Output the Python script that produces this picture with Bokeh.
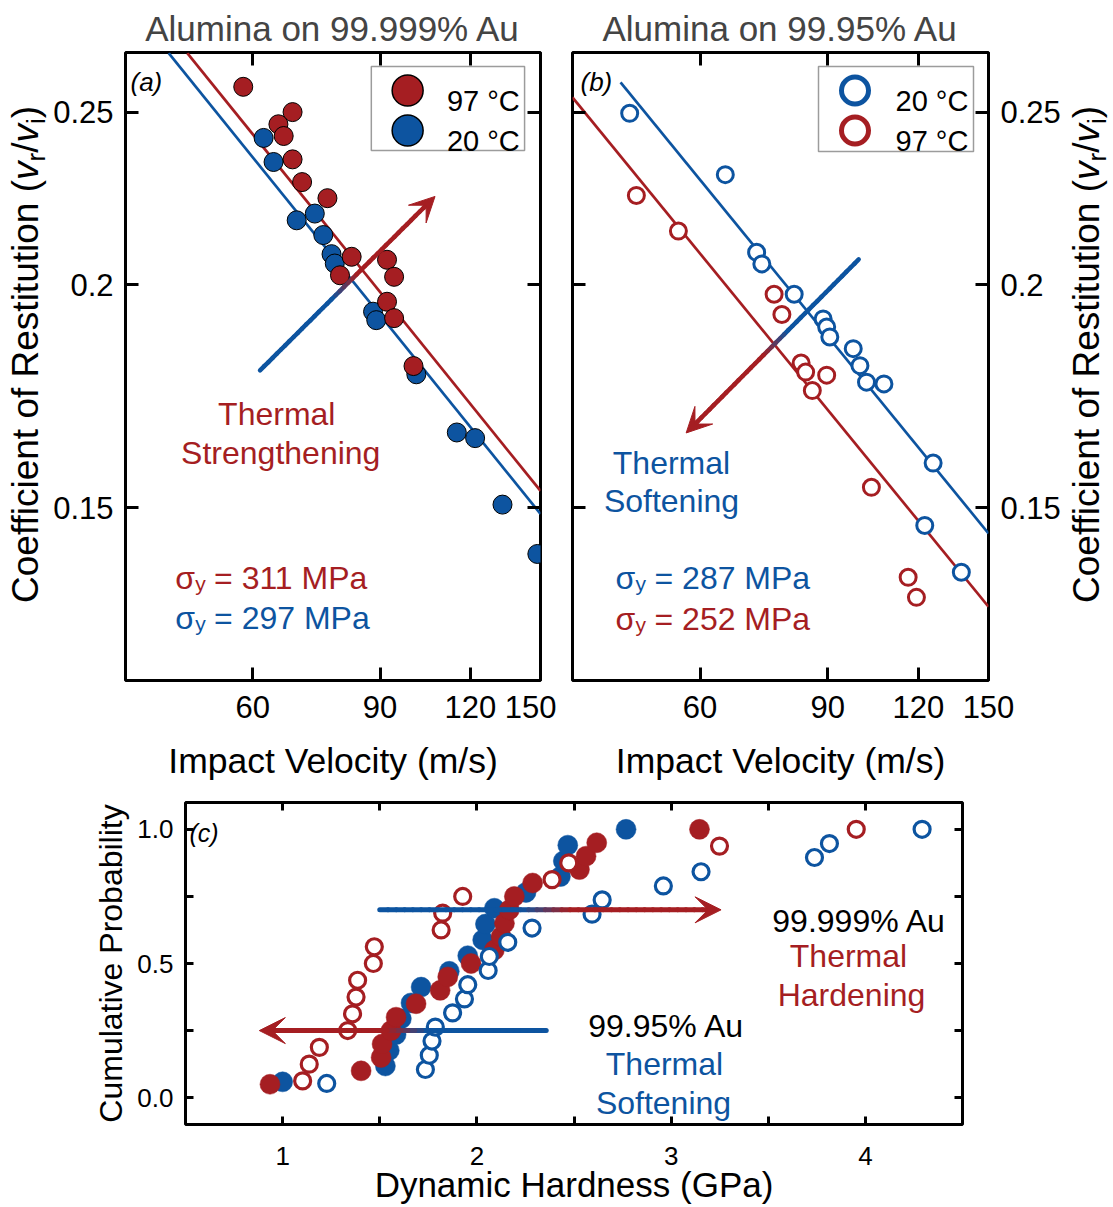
import math
from bokeh.plotting import figure
from bokeh.models import (FixedTicker, LogAxis, LinearAxis, Label, Arrow, VeeHead, Div,
                          PrintfTickFormatter, CustomJSTickFormatter)
from bokeh.layouts import column, row
from bokeh.embed import file_html
from bokeh.resources import INLINE

RED = "#A51E22"
BLUE = "#0D54A0"
FONT = "Liberation Sans"

# ---------------- data ----------------
# (a) Alumina on 99.999% Au : impact velocity (m/s) vs coefficient of restitution
a_v_97 = [58.2, 68.1, 65.1, 66.2, 68.1, 70.2, 76.1, 82.2, 79.2, 92.0, 94.1, 92.0, 94.1, 100.1]
a_e_97 = [0.2583, 0.2500, 0.2461, 0.2424, 0.2352, 0.2284, 0.2237, 0.2074, 0.2025, 0.2066,
          0.2021, 0.1957, 0.1916, 0.1801]
a_v_20 = [62.1, 64.1, 69.0, 73.1, 75.1, 77.1, 77.9, 88.0, 88.9, 101.0, 114.9, 121.8, 132.9, 148.5]
a_e_20 = [0.2418, 0.2344, 0.2174, 0.2193, 0.2133, 0.2081, 0.2056, 0.1932, 0.1911, 0.1782,
          0.1653, 0.1641, 0.1506, 0.1413]
a_fit97_v = [48.7, 150.0]
a_fit97_e = [0.2698, 0.1533]
a_fit20_v = [45.9, 150.0]
a_fit20_e = [0.2698, 0.1488]

# (b) Alumina on 99.95% Au
b_v_20 = [47.97, 65.0, 71.8, 73.0, 80.9, 88.7, 89.7, 90.6, 97.6, 99.7, 101.8, 107.6, 125.8, 122.5, 137.6]
b_e_20 = [0.2496, 0.2306, 0.2086, 0.2055, 0.1976, 0.1914, 0.1894, 0.1870, 0.1842, 0.1802,
          0.1764, 0.1760, 0.1589, 0.1466, 0.1380]
b_v_97 = [49.0, 56.0, 75.9, 77.8, 82.7, 83.9, 89.7, 85.7, 103.4, 116.2, 119.3]
b_e_97 = [0.2245, 0.2144, 0.1976, 0.1925, 0.1808, 0.1787, 0.1780, 0.1745, 0.1540, 0.1371, 0.1336]
b_fit20_v = [46.6, 150.0]
b_fit20_e = [0.2598, 0.1451]
b_fit97_v = [40.0, 150.0]
b_fit97_e = [0.2548, 0.1320]

# (c) dynamic hardness (GPa) vs cumulative probability
c_h_pure97 = [0.935, 1.404, 1.507, 1.512, 1.558, 1.584, 1.687, 1.811, 1.850, 1.970,
              2.090, 2.125, 2.142, 2.167, 2.193, 2.287, 2.528, 2.562, 2.617, 3.146]
c_p_pure97 = [0.05, 0.10, 0.15, 0.20, 0.25, 0.30, 0.35, 0.40, 0.45, 0.50,
              0.55, 0.60, 0.65, 0.70, 0.75, 0.80, 0.85, 0.90, 0.95, 1.00]
c_h_pure20 = [1.000, 1.529, 1.549, 1.584, 1.611, 1.661, 1.713, 1.858, 1.953, 2.030,
              2.044, 2.090, 2.253, 2.430, 2.445, 2.468, 2.768]
c_p_pure20 = [0.059, 0.118, 0.176, 0.235, 0.294, 0.353, 0.412, 0.471, 0.529, 0.588,
              0.647, 0.706, 0.765, 0.824, 0.882, 0.941, 1.000]
c_h_imp97 = [1.103, 1.137, 1.189, 1.335, 1.360, 1.378, 1.386, 1.467, 1.472, 1.816,
             1.824, 1.927, 2.387, 2.473, 3.249, 3.953]
c_p_imp97 = [0.0625, 0.125, 0.1875, 0.25, 0.3125, 0.375, 0.4375, 0.5, 0.5625, 0.625,
             0.6875, 0.75, 0.8125, 0.875, 0.9375, 1.0]
c_h_imp20 = [1.227, 1.735, 1.755, 1.769, 1.786, 1.875, 1.936, 1.953, 2.058, 2.064,
             2.159, 2.284, 2.593, 2.645, 2.960, 3.154, 3.738, 3.815, 4.292]
c_p_imp20 = [0.053, 0.105, 0.158, 0.211, 0.263, 0.316, 0.368, 0.421, 0.474, 0.526,
             0.579, 0.632, 0.684, 0.737, 0.789, 0.842, 0.895, 0.947, 1.000]

# arrows (start, end) in data units
a_arrow = [(61.4, 0.1791), (107.2, 0.2242)]
b_arrow = [(99.3, 0.2067), (57.4, 0.1652)]
c_arrow_up = [(1.5, 0.70), (3.257, 0.70)]
c_arrow_low = [(2.357, 0.25), (0.88, 0.25)]

v_ticks = [60, 90, 120, 150]
e_ticks = [0.15, 0.2, 0.25]
h_ticks = [1, 2, 3, 4]
h_minor = [1.5, 2.5, 3.5]
p_ticks = [0.0, 0.5, 1.0]
p_minor = [0.25, 0.75]
V_RANGE = (40, 150)
E_RANGE = (0.12, 0.27)
H_RANGE = (0.5, 4.5)
P_RANGE = (-0.1, 1.1)

# ---------------- geometry (page pixels) ----------------
AB_H = 783
LA_W = 50                   # strip holding the left y-axis title
A_CX, A_W = 50, 506
B_CX, B_W = 556, 508
LB_X, LB_W = 1064, 48       # strip holding the right y-axis title
C_TOP, C_W, C_H = AB_H, 1112, 423
A_FR = dict(left=123, right=540, top=52, bottom=680)
B_FR = dict(left=572, right=988, top=52, bottom=680)
C_FR = dict(left=185, right=962, top=802, bottom=1124)


def log_map(fr):
    lx0, lx1 = math.log(V_RANGE[0]), math.log(V_RANGE[1])
    ly0, ly1 = math.log(E_RANGE[0]), math.log(E_RANGE[1])
    fx = lambda px: math.exp(lx0 + (px - fr["left"]) / (fr["right"] - fr["left"]) * (lx1 - lx0))
    fy = lambda py: math.exp(ly1 - (py - fr["top"]) / (fr["bottom"] - fr["top"]) * (ly1 - ly0))
    return fx, fy


def lin_map(fr):
    fx = lambda px: H_RANGE[0] + (px - fr["left"]) / (fr["right"] - fr["left"]) * (H_RANGE[1] - H_RANGE[0])
    fy = lambda py: P_RANGE[1] - (py - fr["top"]) / (fr["bottom"] - fr["top"]) * (P_RANGE[1] - P_RANGE[0])
    return fx, fy


def mix(c1, c2, f):
    a = [int(c1[i:i + 2], 16) for i in (1, 3, 5)]
    b = [int(c2[i:i + 2], 16) for i in (1, 3, 5)]
    return "#%02x%02x%02x" % tuple(round(a[k] + (b[k] - a[k]) * f) for k in range(3))


def lab(p, x, y, text, size, color="black", align="left", style="normal",
        baseline="alphabetic", angle=0.0):
    p.add_layout(Label(x=x, y=y, text=text, text_font=FONT, text_font_size=f"{size}px",
                       text_color=color, text_align=align, text_baseline=baseline,
                       text_font_style=style, angle=angle))


def grad_arrow(p, pts, logx, logy, width, head, t_end):
    (x0, y0), (x1, y1) = pts

    def lerp(a, b, t, lg):
        if lg:
            return math.exp(math.log(a) + (math.log(b) - math.log(a)) * t)
        return a + (b - a) * t

    n = 40
    sx0, sy0, sx1, sy1, cols = [], [], [], [], []
    for i in range(n):
        ta, tb = t_end * i / n, t_end * (i + 1) / n
        tm = 0.5 * (ta + tb)
        f = min(max((tm - 0.42) / 0.14, 0.0), 1.0)
        sx0.append(lerp(x0, x1, ta, logx)); sy0.append(lerp(y0, y1, ta, logy))
        sx1.append(lerp(x0, x1, tb, logx)); sy1.append(lerp(y0, y1, tb, logy))
        cols.append(mix(BLUE, RED, f))
    p.segment(x0=sx0, y0=sy0, x1=sx1, y1=sy1, line_color=cols, line_width=width, line_cap="round")
    p.add_layout(Arrow(end=VeeHead(size=head, fill_color=RED, line_color=RED, line_width=1),
                       x_start=lerp(x0, x1, 0.9, logx), y_start=lerp(y0, y1, 0.9, logy),
                       x_end=x1, y_end=y1, line_alpha=0.0))


def style_axis(ax, ticks, tick_len, labeled, size="31px", formatter=None, minor=None, standoff=12):
    ax.ticker = FixedTicker(ticks=ticks, minor_ticks=minor or [])
    ax.major_tick_in = tick_len
    ax.major_tick_out = 0
    ax.minor_tick_in = tick_len if minor else 0
    ax.minor_tick_out = 0
    ax.major_tick_line_width = 3
    ax.minor_tick_line_width = 3
    ax.major_tick_line_color = "black"
    ax.minor_tick_line_color = "black"
    ax.axis_line_color = None
    ax.major_label_text_font = FONT
    ax.axis_label_text_font = FONT
    ax.axis_label_text_font_style = "normal"
    ax.axis_label_text_color = "black"
    if labeled:
        ax.major_label_text_font_size = size
        ax.major_label_standoff = standoff
        ax.major_label_text_color = "black"
        if formatter is not None:
            ax.formatter = formatter
    else:
        ax.formatter = CustomJSTickFormatter(code="return ''")
        ax.major_label_text_font_size = "1px"
        ax.major_label_standoff = 0


def base_style(p):
    p.xgrid.visible = False
    p.ygrid.visible = False
    p.outline_line_color = "black"
    p.outline_line_width = 3
    p.background_fill_color = "white"
    p.border_fill_color = "white"


def log_fig(fr, cx, cw, title, yloc):
    p = figure(width=cw, height=AB_H, x_axis_type="log", y_axis_type="log",
               x_range=V_RANGE, y_range=E_RANGE, y_axis_location=yloc, title=title,
               output_backend="svg", toolbar_location=None,
               min_border_left=fr["left"] - cx, min_border_right=cx + cw - fr["right"],
               min_border_top=fr["top"], min_border_bottom=AB_H - fr["bottom"])
    base_style(p)
    p.title.text_font = FONT
    p.title.text_font_size = "35px"
    p.title.text_font_style = "normal"
    p.title.align = "center"
    p.title.standoff = 9
    xb = p.xaxis[0]
    style_axis(xb, v_ticks, 13, True, formatter=CustomJSTickFormatter(code="return tick.toString()"),
               standoff=15)
    xb.axis_label = "Impact Velocity (m/s)"
    xb.axis_label_text_font_size = "35.5px"
    xb.axis_label_standoff = 20
    xt = LogAxis()
    p.add_layout(xt, "above")
    style_axis(xt, v_ticks, 13, False)
    ye = p.yaxis[0]
    style_axis(ye, e_ticks, 13, True, formatter=CustomJSTickFormatter(code="return tick.toString()"),
               standoff=12)
    yo = LogAxis()
    p.add_layout(yo, "right" if yloc == "left" else "left")
    style_axis(yo, e_ticks, 13, False)
    return p


def restitution_strip(width, baseline_px, start_py):
    """Rotated y-axis title (reads bottom to top) with italic v and subscripts."""
    line_h = 30
    left_px = baseline_px - (line_h / 2 + 12.8)
    sub = 'font-size:26px;vertical-align:-7px;line-height:0;'
    html = (
        f'<div style="position:relative;width:{width}px;height:{AB_H}px;overflow:visible;">'
        f'<div style="position:absolute;left:{left_px:.1f}px;top:{start_py}px;transform-origin:0 0;'
        f"transform:rotate(-90deg);white-space:nowrap;font-family:'{FONT}';font-size:37px;"
        f'line-height:{line_h}px;color:#000;">'
        f'Coefficient of Restitution (<i>v</i><span style="{sub}">r</span>/'
        f'<i>v</i><span style="{sub}">i</span>)</div></div>'
    )
    return Div(text=html, width=width, height=AB_H, margin=0)


def sigma_label(p, fx, fy, left, base, rest, color):
    lab(p, fx(left), fy(base), "σ", 32, color)
    lab(p, fx(left + 20), fy(base + 6), "y", 21, color)
    lab(p, fx(left + 39), fy(base), rest, 32, color)


# ---------------- panel (a) ----------------
pa = log_fig(A_FR, A_CX, A_W, "Alumina on 99.999% Au", "left")
fxa, fya = log_map(A_FR)
pa.line(a_fit97_v, a_fit97_e, line_color=RED, line_width=2.7)
pa.line(a_fit20_v, a_fit20_e, line_color=BLUE, line_width=2.7)
pa.scatter(a_v_20, a_e_20, size=19, fill_color=BLUE, line_color="black", line_width=1)
pa.scatter(a_v_97, a_e_97, size=19, fill_color=RED, line_color="black", line_width=1)
# legend
pa.quad(left=fxa(370), right=fxa(524), top=fya(66), bottom=fya(150),
        fill_color="white", line_color="#9c9c9c", line_width=1.5)
pa.scatter([fxa(406.5), fxa(406.5)], [fya(90), fya(130)], size=31,
           fill_color=[RED, BLUE], line_color="black", line_width=1.5)
lab(pa, fxa(446), fya(100), "97 °C", 29)
lab(pa, fxa(446), fya(140), "20 °C", 29)
grad_arrow(pa, a_arrow, True, True, 4.5, 25, 0.96)
lab(pa, fxa(128), fya(81), "(a)", 26, style="italic")
lab(pa, fxa(275), fya(413), "Thermal", 32, RED, align="center")
lab(pa, fxa(279), fya(452), "Strengthening", 32, RED, align="center")
sigma_label(pa, fxa, fya, 173, 577, "= 311 MPa", RED)
sigma_label(pa, fxa, fya, 173, 617, "= 297 MPa", BLUE)

la = restitution_strip(LA_W, 39, 603)

# ---------------- panel (b) ----------------
pb = log_fig(B_FR, B_CX, B_W, "Alumina on 99.95% Au", "right")
fxb, fyb = log_map(B_FR)
pb.line(b_fit20_v, b_fit20_e, line_color=BLUE, line_width=2.7)
pb.line(b_fit97_v, b_fit97_e, line_color=RED, line_width=2.7)
pb.scatter(b_v_20, b_e_20, size=16, fill_color="white", line_color=BLUE, line_width=3)
pb.scatter(b_v_97, b_e_97, size=16, fill_color="white", line_color=RED, line_width=3)
pb.quad(left=fxb(818), right=fxb(973), top=fyb(66), bottom=fyb(151),
        fill_color="white", line_color="#9c9c9c", line_width=1.5)
pb.scatter([fxb(854.5), fxb(854.5)], [fyb(90), fyb(130)], size=27,
           fill_color="white", line_color=[BLUE, RED], line_width=5)
lab(pb, fxb(895), fyb(100), "20 °C", 29)
lab(pb, fxb(895), fyb(140), "97 °C", 29)
grad_arrow(pb, b_arrow, True, True, 4.5, 25, 0.96)
lab(pb, fxb(580), fyb(81), "(b)", 26, style="italic")
lab(pb, fxb(671), fyb(462), "Thermal", 32, BLUE, align="center")
lab(pb, fxb(671), fyb(500), "Softening", 32, BLUE, align="center")
sigma_label(pb, fxb, fyb, 615, 577, "= 287 MPa", BLUE)
sigma_label(pb, fxb, fyb, 615, 618, "= 252 MPa", RED)

lb = restitution_strip(LB_W, 1100 - LB_X, 603)

# ---------------- panel (c) ----------------
pc = figure(width=C_W, height=C_H, x_range=H_RANGE, y_range=P_RANGE,
            output_backend="svg", toolbar_location=None,
            min_border_left=C_FR["left"], min_border_right=C_W - C_FR["right"],
            min_border_top=C_FR["top"] - C_TOP,
            min_border_bottom=C_TOP + C_H - C_FR["bottom"])
base_style(pc)
fxc, fyc = lin_map(C_FR)
xbc = pc.xaxis[0]
style_axis(xbc, h_ticks, 8, True, size="26px", formatter=PrintfTickFormatter(format="%d"),
           minor=h_minor, standoff=22)
xbc.axis_label = "Dynamic Hardness (GPa)"
xbc.axis_label_text_font_size = "35px"
xbc.axis_label_standoff = -3
ylc = pc.yaxis[0]
style_axis(ylc, p_ticks, 8, True, size="26px", formatter=PrintfTickFormatter(format="%.1f"),
           minor=p_minor, standoff=12)
ylc.axis_label = "Cumulative Probability"
ylc.axis_label_text_font_size = "32px"
ylc.axis_label_standoff = 5
xtc = LinearAxis()
pc.add_layout(xtc, "above")
style_axis(xtc, h_ticks, 8, False, minor=h_minor)
yrc = LinearAxis()
pc.add_layout(yrc, "right")
style_axis(yrc, p_ticks, 8, False, minor=p_minor)

pc.scatter(c_h_pure20, c_p_pure20, size=20, fill_color=BLUE, line_color=BLUE, line_width=0.5)
pc.scatter(c_h_pure97, c_p_pure97, size=20, fill_color=RED, line_color=RED, line_width=0.5)
pc.scatter(c_h_imp20, c_p_imp20, size=16, fill_color="white", line_color=BLUE, line_width=3.2)
pc.scatter(c_h_imp97, c_p_imp97, size=16, fill_color="white", line_color=RED, line_width=3.2)
grad_arrow(pc, c_arrow_up, False, False, 5, 26, 0.97)
grad_arrow(pc, c_arrow_low, False, False, 5, 26, 0.965)
lab(pc, fxc(189), fyc(832), "(c)", 25, style="italic")
lab(pc, fxc(859), fyc(920), "99.999% Au", 32, "black", align="center")
lab(pc, fxc(848), fyc(955), "Thermal", 32, RED, align="center")
lab(pc, fxc(851), fyc(994), "Hardening", 32, RED, align="center")
lab(pc, fxc(666), fyc(1025), "99.95% Au", 32, "black", align="center")
lab(pc, fxc(664), fyc(1063), "Thermal", 32, BLUE, align="center")
lab(pc, fxc(663), fyc(1102), "Softening", 32, BLUE, align="center")

layout = column(row(la, pa, pb, lb), pc)
open("out.html", "w").write(file_html(layout, INLINE))
